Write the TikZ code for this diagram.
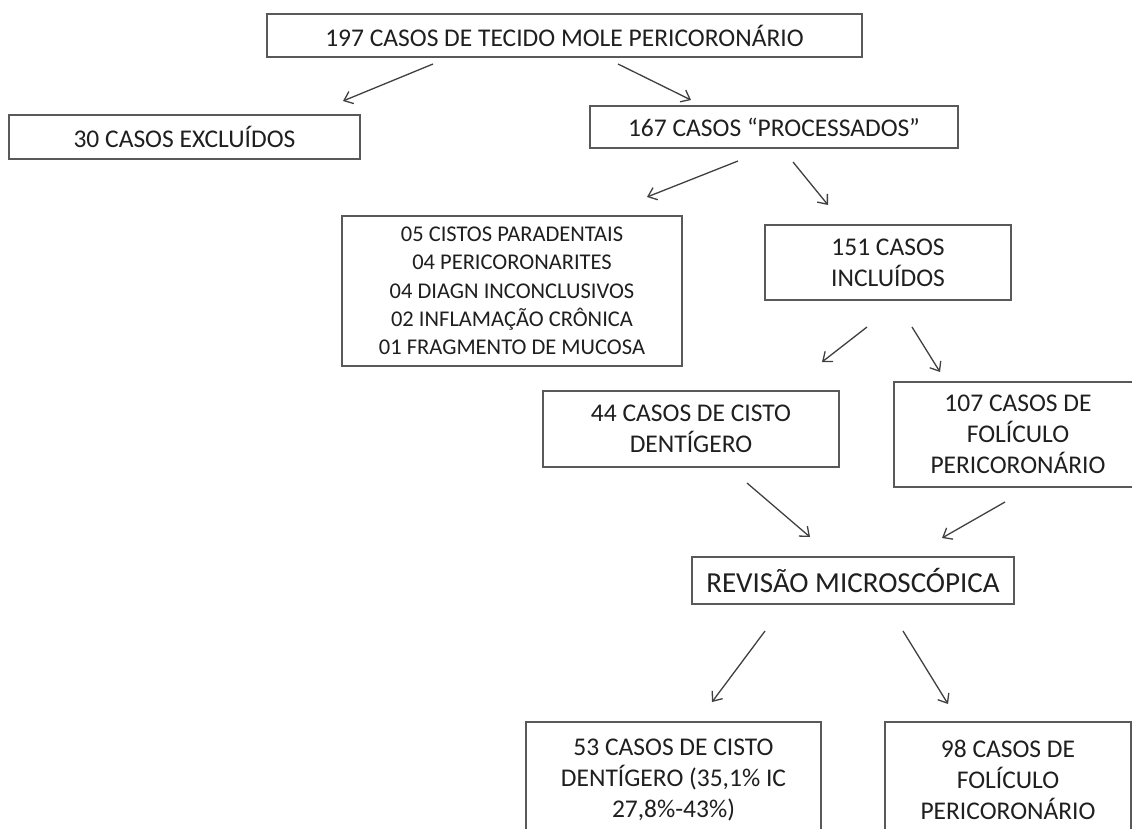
\documentclass[tikz,border=0pt]{standalone}
\usepackage{fontspec}
\setmainfont{Carlito}
\usetikzlibrary{arrows.meta}
\begin{document}
\begin{tikzpicture}[x=1pt,y=1pt,
  box/.style={draw=black!65, line width=1.4pt, fill=white, text=black!88, inner sep=0pt, align=center, font=\fontsize{25.5}{31}\selectfont},
  arr/.style={draw=black!75, line width=1.3pt, -{Straight Barb[length=8pt,width=13pt,line width=1.3pt]}}]
\useasboundingbox (0,0) rectangle (1132,-828);
\clip (0,0) rectangle (1132,-828);
\fill[white] (0,0) rectangle (1132,-828);
\node[box, minimum width=595, minimum height=43] (b1) at (564.5,-35.5) {197 CASOS DE TECIDO MOLE PERICORONÁRIO};
\node[box, minimum width=351, minimum height=44] (b2) at (184.5,-137) {30 CASOS EXCLUÍDOS};
\node[box, minimum width=368, minimum height=42] (b3) at (774,-127) {167 CASOS “PROCESSADOS”};
\node[box, minimum width=340, minimum height=150, font=\fontsize{22.5}{28.3}\selectfont] (b4) at (512,-291) {05 CISTOS PARADENTAIS\\04 PERICORONARITES\\04 DIAGN INCONCLUSIVOS\\02 INFLAMAÇÃO CRÔNICA\\01 FRAGMENTO DE MUCOSA};
\node[box, minimum width=246, minimum height=75] (b5) at (888,-262.5) {151 CASOS\\INCLUÍDOS};
\node[box, minimum width=296, minimum height=76] (b6) at (691,-429) {44 CASOS DE CISTO\\DENTÍGERO};
\node[box, minimum width=248, minimum height=105] (b7) at (1018,-434.5) {107 CASOS DE\\FOLÍCULO\\PERICORONÁRIO};
\node[box, minimum width=322, minimum height=47, font=\fontsize{29}{35}\selectfont] (b8) at (853,-580.5) {REVISÃO MICROSCÓPICA};
\node[box, minimum width=295, minimum height=116] (b9) at (673.5,-780) {53 CASOS DE CISTO\\DENTÍGERO (35,1\% IC\\27,8\%-43\%)};
\node[box, minimum width=246, minimum height=116] (b10) at (1008,-780) {98 CASOS DE\\FOLÍCULO\\PERICORONÁRIO};
\coordinate (a1s) at (433,-64);  \coordinate (a1e) at (343,-101);
\coordinate (a2s) at (618,-64);  \coordinate (a2e) at (691,-100);
\coordinate (a3s) at (738,-161); \coordinate (a3e) at (647,-197);
\coordinate (a4s) at (793,-162); \coordinate (a4e) at (828,-205);
\coordinate (a5s) at (867,-327); \coordinate (a5e) at (822,-362);
\coordinate (a6s) at (912,-327); \coordinate (a6e) at (940,-372);
\coordinate (a7s) at (747,-483); \coordinate (a7e) at (810,-537);
\coordinate (a8s) at (1005,-502); \coordinate (a8e) at (942,-538);
\coordinate (a9s) at (765,-631); \coordinate (a9e) at (712,-702);
\coordinate (a10s) at (903,-631); \coordinate (a10e) at (948,-704);
\foreach \i in {1,...,10} {\draw[arr] (a\i s) -- (a\i e);}
\end{tikzpicture}
\end{document}
